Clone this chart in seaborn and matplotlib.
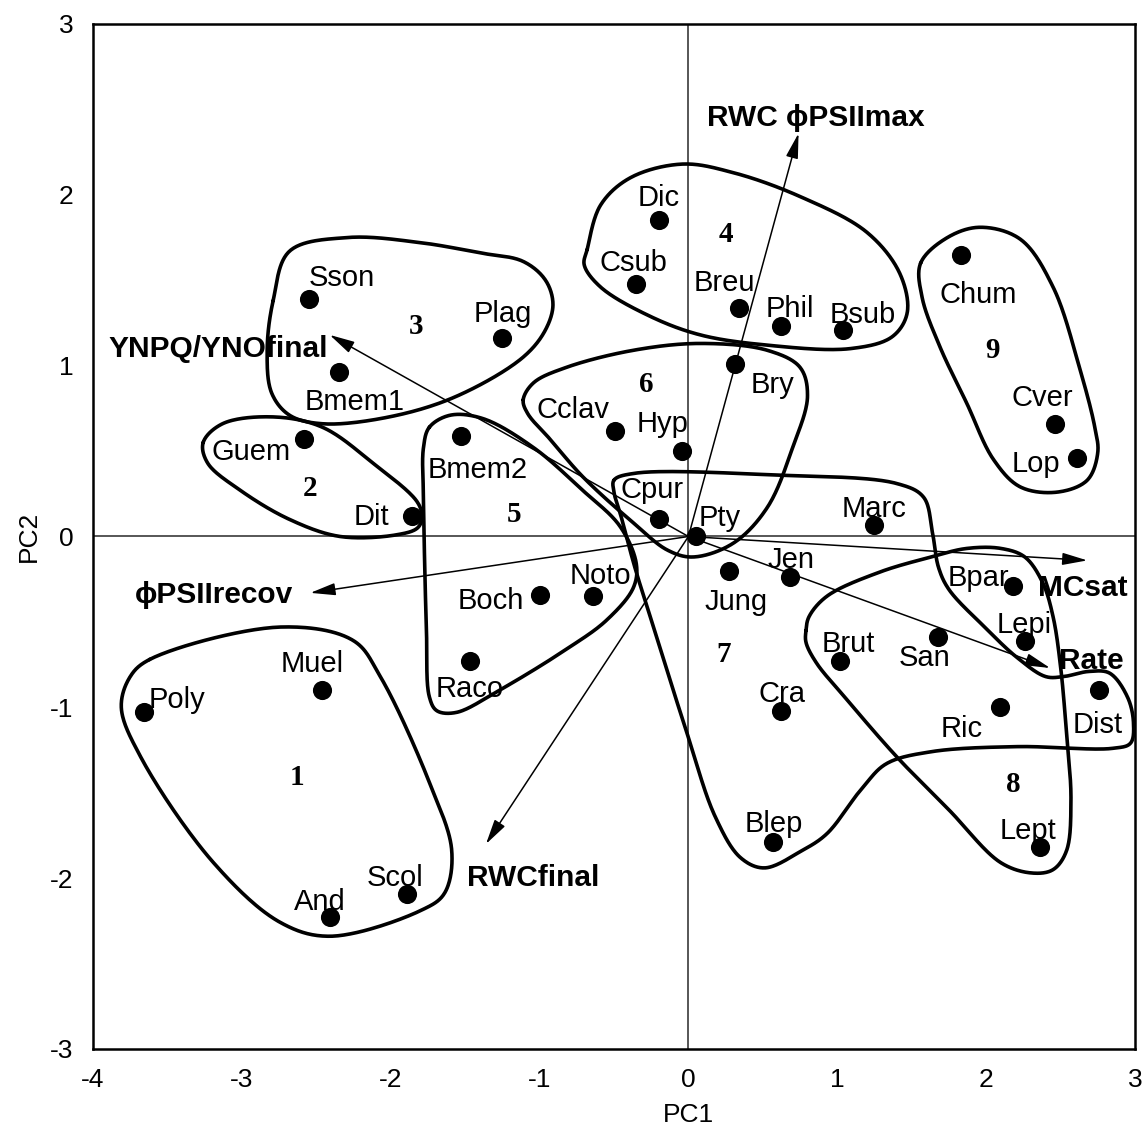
import numpy as np
import pandas as pd
import matplotlib
matplotlib.use("Agg")
import matplotlib.pyplot as plt
import seaborn as sns

# ---------------- species scores on the first two principal components ----------------
species = ["Poly", "Muel", "And", "Scol", "Sson", "Plag", "Bmem1", "Guem", "Dit",
           "Bmem2", "Boch", "Noto", "Raco", "Cclav", "Hyp", "Cpur", "Pty", "Bry",
           "Dic", "Csub", "Breu", "Phil", "Bsub", "Chum", "Cver", "Lop", "Marc",
           "Jung", "Jen", "Bpar", "Lepi", "San", "Brut", "Cra", "Ric", "Dist",
           "Blep", "Lept"]
pc1 = [-3.66, -2.46, -2.41, -1.89, -2.55, -1.25, -2.35, -2.58, -1.86,
       -1.53, -1.00, -0.64, -1.47, -0.49, -0.04, -0.20, 0.05, 0.31,
       -0.20, -0.35, 0.34, 0.62, 1.04, 1.83, 2.46, 2.61, 1.25,
       0.27, 0.68, 2.18, 2.26, 1.68, 1.02, 0.62, 2.09, 2.76,
       0.57, 2.36]
pc2 = [-1.03, -0.90, -2.23, -2.09, 1.39, 1.16, 0.96, 0.57, 0.12,
       0.59, -0.34, -0.35, -0.73, 0.62, 0.50, 0.10, 0.00, 1.01,
       1.85, 1.48, 1.34, 1.23, 1.21, 1.65, 0.66, 0.46, 0.07,
       -0.20, -0.24, -0.29, -0.61, -0.59, -0.73, -1.02, -1.00, -0.90,
       -1.79, -1.82]

# ---------------- variable loadings (arrow tips) ----------------
variables = ["RWC \u03d5PSIImax", "YNPQ/YNOfinal", "\u03d5PSIIrecov", "MCsat", "Rate", "RWCfinal"]
load_x = [0.74, -2.41, -2.54, 2.68, 2.43, -1.36]
load_y = [2.36, 1.18, -0.33, -0.14, -0.77, -1.80]

# ---------------- cluster numbers ----------------
cluster_ids = ["1", "2", "3", "4", "5", "6", "7", "8", "9"]
cluster_x = [-2.63, -2.54, -1.83, 0.25, -1.17, -0.28, 0.24, 2.18, 2.04]
cluster_y = [-1.41, 0.28, 1.23, 1.77, 0.13, 0.89, -0.69, -1.45, 1.09]

# ---------------- cluster outlines (closed curves through these vertices) ----------------
hull1_x = [-3.62, -2.74, -2.25, -2.07, -1.74, -1.59, -1.64, -1.80, -2.41, -2.74, -3.19, -3.68, -3.81, -3.75]
hull1_y = [-0.72, -0.53, -0.61, -0.82, -1.44, -1.84, -2.09, -2.19, -2.34, -2.26, -1.91, -1.29, -1.00, -0.82]

hull2_x = [-3.26, -3.13, -2.79, -2.46, -2.12, -1.82, -1.79, -1.82, -1.96, -2.34, -2.68, -3.01, -3.23]
hull2_y = [0.55, 0.66, 0.70, 0.64, 0.43, 0.20, 0.11, 0.05, 0.01, 0.00, 0.10, 0.27, 0.43]

hull3_x = [-2.79, -2.68, -2.29, -1.80, -1.40, -1.11, -0.96, -0.91, -0.96, -1.11, -1.56, -2.01, -2.46, -2.68, -2.80, -2.83]
hull3_y = [1.38, 1.67, 1.75, 1.72, 1.66, 1.61, 1.50, 1.36, 1.21, 1.05, 0.82, 0.70, 0.66, 0.71, 0.84, 1.09]

hull4_x = [-0.68, -0.59, -0.39, -0.04, 0.30, 0.75, 1.20, 1.42, 1.47, 1.37, 1.09, 0.53, 0.08, -0.26, -0.59, -0.70]
hull4_y = [1.68, 1.94, 2.10, 2.18, 2.13, 1.99, 1.78, 1.54, 1.31, 1.17, 1.10, 1.12, 1.18, 1.29, 1.46, 1.59]

hull5_x = [-1.74, -1.60, -1.38, -1.04, -0.71, -0.46, -0.35, -0.37, -0.55, -0.82, -1.27, -1.56, -1.69, -1.74, -1.76, -1.78, -1.78]
hull5_y = [0.64, 0.71, 0.69, 0.52, 0.27, 0.06, -0.16, -0.30, -0.49, -0.66, -0.90, -1.03, -1.02, -0.94, -0.55, 0.23, 0.52]

hull6_x = [-1.11, -1.04, -0.82, -0.37, 0.08, 0.53, 0.75, 0.80, 0.70, 0.53, 0.30, 0.03, -0.14, -0.37, -0.71, -0.93, -1.08]
hull6_y = [0.80, 0.90, 0.99, 1.09, 1.13, 1.09, 0.99, 0.82, 0.52, 0.17, -0.04, -0.12, -0.08, 0.08, 0.35, 0.57, 0.72]

hull7_x = [-0.50, -0.36, 0.58, 1.40, 1.58, 1.64, 1.68, 1.75, 1.99, 2.21, 2.40, 2.52, 2.69, 2.83, 2.95, 2.99,
           2.97, 2.85, 2.21, 1.63, 1.33, 1.17, 0.93, 0.76, 0.51, 0.35, 0.18, -0.01, -0.22, -0.36, -0.45, -0.50]
hull7_y = [0.33, 0.37, 0.36, 0.31, 0.23, 0.02, -0.18, -0.31, -0.53, -0.71, -0.82, -0.82, -0.79, -0.80, -0.94, -1.09,
           -1.21, -1.24, -1.23, -1.26, -1.33, -1.47, -1.74, -1.84, -1.94, -1.88, -1.64, -1.15, -0.57, -0.18, 0.11, 0.26]

hull8_x = [0.79, 0.81, 0.93, 1.28, 1.63, 1.87, 2.10, 2.26, 2.38, 2.45, 2.50, 2.54, 2.57, 2.54, 2.45, 2.31, 2.10, 1.75, 1.40, 1.05, 0.86, 0.79]
hull8_y = [-0.55, -0.47, -0.35, -0.21, -0.12, -0.07, -0.07, -0.12, -0.27, -0.47, -0.76, -1.15, -1.54, -1.84, -1.95, -1.97, -1.91, -1.60, -1.29, -0.94, -0.74, -0.62]

hull9_x = [1.56, 1.74, 1.96, 2.23, 2.45, 2.63, 2.73, 2.75, 2.68, 2.48, 2.23, 2.05, 1.87, 1.69, 1.57]
hull9_y = [1.60, 1.75, 1.81, 1.74, 1.46, 0.98, 0.64, 0.49, 0.33, 0.26, 0.29, 0.45, 0.78, 1.11, 1.40]

hulls = [(hull1_x, hull1_y), (hull2_x, hull2_y), (hull3_x, hull3_y), (hull4_x, hull4_y),
         (hull5_x, hull5_y), (hull6_x, hull6_y), (hull7_x, hull7_y), (hull8_x, hull8_y),
         (hull9_x, hull9_y)]

# ---------------- label placement (pixel offsets: centre-x, baseline) ----------------
label_offsets = {
    "Poly": (33, 4), "Muel": (-10, 18), "And": (-10, 7), "Scol": (-12, 8),
    "Sson": (33, 13), "Plag": (0, 16), "Bmem1": (16, -38), "Guem": (-53, -21),
    "Dit": (-40, -9), "Bmem2": (17, -42), "Boch": (-49, -14), "Noto": (7, 12),
    "Raco": (0, -36), "Cclav": (-42, 13), "Hyp": (-20, 19), "Cpur": (-7, 21),
    "Pty": (24, 10), "Bry": (38, -29), "Dic": (0, 14), "Csub": (-3, 13),
    "Breu": (-15, 17), "Phil": (9, 9), "Bsub": (20, 7), "Chum": (17, -48),
    "Cver": (-12, 18), "Lop": (-41, -14), "Marc": (0, 8), "Jung": (7, -39),
    "Jen": (1, 9), "Bpar": (-34, 0), "Lepi": (-1, 8), "San": (-14, -29),
    "Brut": (8, 9), "Cra": (1, 9), "Ric": (-38, -30), "Dist": (-2, -43),
    "Blep": (1, 10), "Lept": (-12, 8),
}
# loading labels: (x, y, horizontal alignment) in data units
variable_text_pos = [(0.125, 2.45, "left"), (-2.42, 1.10, "right"), (-3.72, -0.34, "left"),
                     (2.35, -0.30, "left"), (2.49, -0.73, "left"), (-1.49, -2.00, "left")]


def closed_curve(x, y, per_seg=30, alpha=0.5, yscale=1.148):
    """Centripetal Catmull-Rom spline through the vertices, closed."""
    pts = np.column_stack([np.asarray(x, float), np.asarray(y, float) * yscale])
    n = len(pts)
    segs = []
    for i in range(n):
        p0, p1, p2, p3 = pts[(i - 1) % n], pts[i], pts[(i + 1) % n], pts[(i + 2) % n]
        t0 = 0.0
        t1 = t0 + np.linalg.norm(p1 - p0) ** alpha
        t2 = t1 + np.linalg.norm(p2 - p1) ** alpha
        t3 = t2 + np.linalg.norm(p3 - p2) ** alpha
        t = np.linspace(t1, t2, per_seg, endpoint=False)[:, None]
        a1 = (t1 - t) / (t1 - t0) * p0 + (t - t0) / (t1 - t0) * p1
        a2 = (t2 - t) / (t2 - t1) * p1 + (t - t1) / (t2 - t1) * p2
        a3 = (t3 - t) / (t3 - t2) * p2 + (t - t2) / (t3 - t2) * p3
        b1 = (t2 - t) / (t2 - t0) * a1 + (t - t0) / (t2 - t0) * a2
        b2 = (t3 - t) / (t3 - t1) * a2 + (t - t1) / (t3 - t1) * a3
        segs.append((t2 - t) / (t2 - t1) * b1 + (t - t1) / (t2 - t1) * b2)
    c = np.vstack(segs + [segs[0][:1]])
    return c[:, 0], c[:, 1] / yscale


sns.set_style("white")
plt.rcParams["font.family"] = ["Liberation Sans", "DejaVu Sans"]
plt.rcParams["mathtext.fontset"] = "dejavusans"
plt.rcParams["axes.unicode_minus"] = False
for key in ("text.color", "axes.labelcolor", "xtick.color", "ytick.color"):
    plt.rcParams[key] = "black"

fig = plt.figure(figsize=(11.47, 11.37), dpi=100)
ax = fig.add_axes([0.0811, 0.0774, 0.9084, 0.9015])
ax.set_xlim(-4, 3)
ax.set_ylim(-3, 3)

# zero reference lines
ax.axhline(0, color="#3a3a3a", lw=1.2, zorder=1)
ax.axvline(0, color="#3a3a3a", lw=1.2, zorder=1)

# cluster outlines
for hx, hy in hulls:
    cx, cy = closed_curve(hx, hy)
    ax.plot(cx, cy, color="black", lw=2.6, solid_capstyle="round", zorder=3)

# loading arrows
for (lx, ly) in zip(load_x, load_y):
    ax.annotate("", xy=(lx, ly), xytext=(0, 0),
                arrowprops=dict(arrowstyle="-|>,head_length=0.9,head_width=0.22",
                                color="black", lw=1.1, shrinkA=0, shrinkB=0,
                                mutation_scale=17),
                zorder=4)
for name, (tx, ty, ha) in zip(variables, variable_text_pos):
    ax.text(tx, ty, name, ha=ha, va="center", fontsize=21.5, fontweight="bold",
            color="black", family=["Liberation Sans", "DejaVu Sans"], zorder=6)

# species scores
df = pd.DataFrame({"species": species, "PC1": pc1, "PC2": pc2})
sns.scatterplot(data=df, x="PC1", y="PC2", ax=ax, color="black", s=190,
                edgecolor="black", linewidth=0, zorder=5, legend=False)
for sp, x, y in zip(species, pc1, pc2):
    dx, dy = label_offsets[sp]
    ax.annotate(sp, (x, y), xytext=(dx, dy), textcoords="offset pixels",
                ha="center", va="baseline", fontsize=21, color="black", zorder=6)

# cluster numbers
for cid, x, y in zip(cluster_ids, cluster_x, cluster_y):
    ax.text(x, y, cid, ha="center", va="center", fontsize=21, fontweight="bold",
            color="black", family="Liberation Serif", zorder=6)

# axes, ticks and labels
ax.set_xticks(range(-4, 4))
ax.set_yticks(range(-3, 4))
ax.tick_params(direction="in", length=9, width=1.3, labelsize=19, pad=14,
               top=False, right=False, colors="black")
for s in ax.spines.values():
    s.set_linewidth(1.8)
    s.set_color("black")
ax.set_xlabel("PC1", fontsize=19, color="black")
ax.set_ylabel("PC2", fontsize=19, color="black")
ax.xaxis.set_label_coords(4 / 7, -0.053)
ax.yaxis.set_label_coords(-0.050, 0.5)

fig.savefig("out.png", dpi=100)
